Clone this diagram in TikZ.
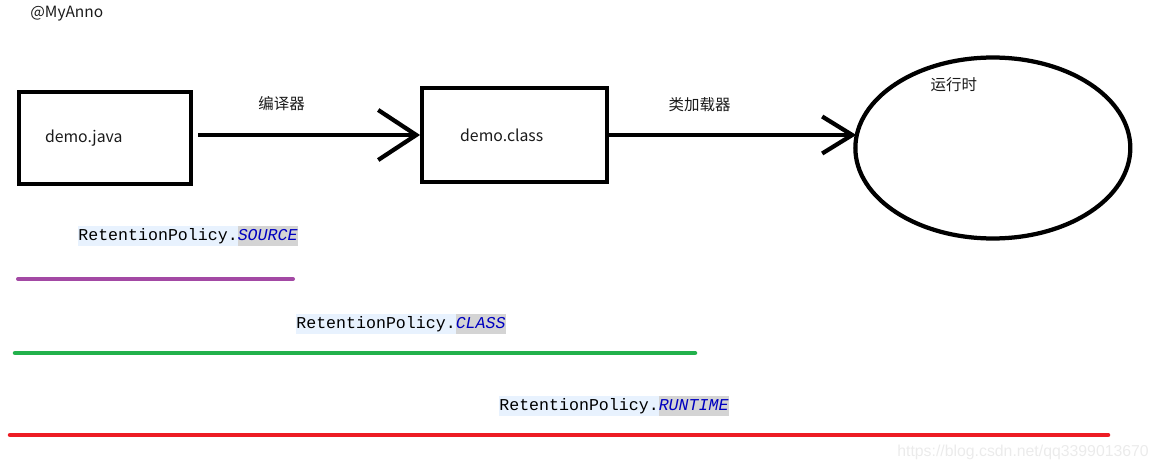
\documentclass[tikz,border=0pt]{standalone}
\usepackage{fontspec}
\setmainfont{Noto Sans CJK SC}
\setmonofont{Liberation Mono}
\newfontfamily\wmfont{Liberation Sans}
\usepackage{xcolor}
\usepackage{tikz}
\usetikzlibrary{positioning, arrows.meta, shapes.geometric, calc}
\definecolor{ink}{HTML}{000000}
\definecolor{txt}{HTML}{1A1A1A}
\definecolor{codebg}{HTML}{E8F2FE}
\definecolor{selbg}{HTML}{D4D4D4}
\definecolor{codeblue}{HTML}{0000C0}
\definecolor{srcline}{HTML}{A349A4}
\definecolor{clsline}{HTML}{22B14C}
\definecolor{runline}{HTML}{ED1C24}
\definecolor{wmgray}{HTML}{EBEBEB}
\newcommand{\policy}[1]{{\setlength{\fboxsep}{0pt}%
  \colorbox{codebg}{\rule[-0.32em]{0pt}{1.2em}RetentionPolicy.}%
  \colorbox{selbg}{\rule[-0.32em]{0pt}{1.2em}\textcolor{codeblue}{\itshape #1}}}}
\tikzset{
  file/.style   = {rectangle, draw=ink, line width=0.085cm, align=left,
                   font=\fontsize{9}{10}\selectfont, text=txt},
  stage/.style  = {ellipse, draw=ink, line width=0.085cm,
                   minimum width=5.5cm, minimum height=3.62cm},
  lbl/.style    = {font=\fontsize{8.8}{10}\selectfont, text=txt, inner sep=0pt},
  code/.style   = {font=\ttfamily\fontsize{9.45}{11}\selectfont, inner sep=0pt, anchor=west},
  ar/.style     = {draw=ink, line width=0.085cm, -{Straight Barb[length=0.76cm, width=1.0cm]}},
  ars/.style    = {draw=ink, line width=0.085cm, -{Straight Barb[length=0.6cm, width=0.74cm]}},
  span/.style   = {line width=0.09cm, line cap=round},
}
\begin{document}
\begin{tikzpicture}[x=0.02cm, y=-0.02cm]
  \useasboundingbox (0,0) rectangle (1158,470);

  % Annotation name
  \node[lbl, anchor=west] (anno) at (30,14) {@MyAnno};

  % Life cycle stages
  \node[file, minimum width=3.44cm, minimum height=1.84cm, text width=2.4cm,
        inner xsep=0.52cm] (java) at (105,138) {demo.java};
  \node[file, minimum width=3.7cm, minimum height=1.88cm, text width=2.18cm,
        inner xsep=0.76cm, right=4.54cm of java, yshift=0.06cm] (class) {demo.class};
  \node[stage, right=4.88cm of class, yshift=-0.26cm] (ell) {};
  \node[lbl] (rt) at ($(ell.center)+(-39,-63)$) {运行时};

  % Arrows
  \draw[ar, shorten <=0.1cm] (java.east |- class.west) -- node[lbl, pos=0.39, yshift=0.62cm] (cmp) {编译器} (class.west);
  \draw[ars, shorten >=-0.06cm] (class.east) -- node[lbl, pos=0.37, yshift=0.6cm] (ldr) {类加载器} (class.east -| ell.west);

  % Retention policies
  \node[code] (src) at (78,236) {\policy{SOURCE}};
  \draw[span, srcline, line width=0.08cm] (18,279) -- (293,279);
  \node[code] (cls) at (296,324) {\policy{CLASS}};
  \draw[span, clsline] (15,353) -- (695,353);
  \node[code] (run) at (499,406) {\policy{RUNTIME}};
  \draw[span, runline] (10,435) -- (1108,435);

  \node[anchor=west, font=\wmfont\fontsize{9}{10}\selectfont, text=wmgray,
        inner sep=0pt] (mark) at (897,452) {https://blog.csdn.net/qq3399013670};

\end{tikzpicture}
\end{document}
